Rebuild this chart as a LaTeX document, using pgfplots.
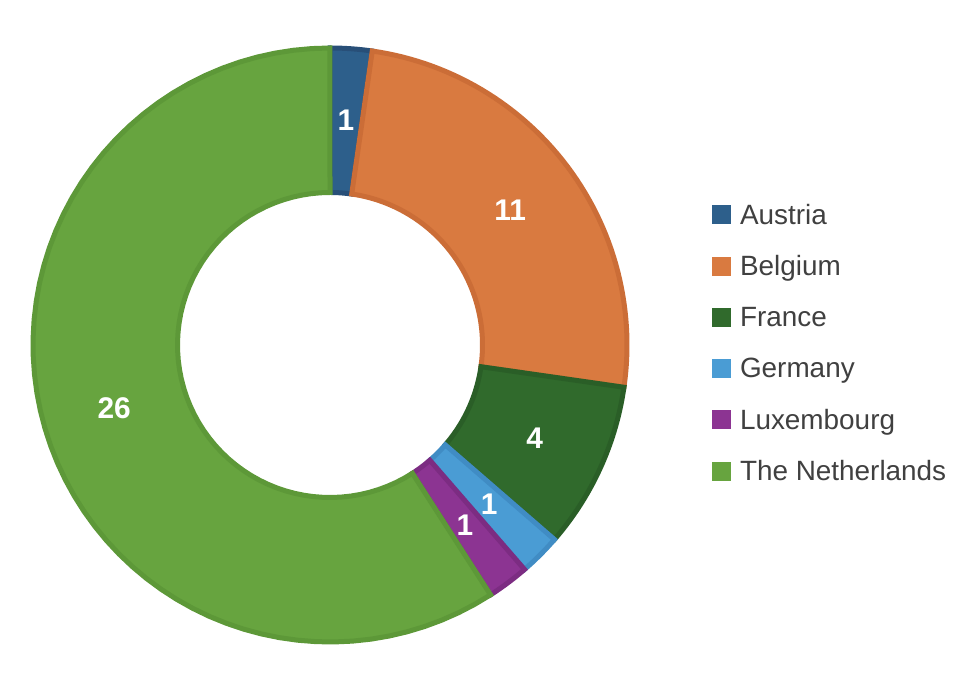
\documentclass[border=0pt]{standalone}
\usepackage{fontspec}
\setmainfont{Liberation Sans}
\usepackage{pgfplots}
\usepackage{pgfplotstable}
\pgfplotsset{compat=1.18}

\definecolor{cA}{HTML}{2D5F8B}\definecolor{dA}{HTML}{284F78}
\definecolor{cB}{HTML}{D97A40}\definecolor{dB}{HTML}{CB6D37}
\definecolor{cC}{HTML}{306A2C}\definecolor{dC}{HTML}{2A5E27}
\definecolor{cD}{HTML}{4A9CD4}\definecolor{dD}{HTML}{408CC4}
\definecolor{cE}{HTML}{8C3492}\definecolor{dE}{HTML}{7C2C82}
\definecolor{cF}{HTML}{67A43F}\definecolor{dF}{HTML}{5D9838}
\definecolor{txt}{HTML}{404040}

\pgfplotstableread{
name value
Austria 1
Belgium 11
France 4
Germany 1
Luxembourg 1
Netherlands 26
}\data

\pgfplotstablegetelem{0}{value}\of\data \let\vA\pgfplotsretval
\pgfplotstablegetelem{1}{value}\of\data \let\vB\pgfplotsretval
\pgfplotstablegetelem{2}{value}\of\data \let\vC\pgfplotsretval
\pgfplotstablegetelem{3}{value}\of\data \let\vD\pgfplotsretval
\pgfplotstablegetelem{4}{value}\of\data \let\vE\pgfplotsretval
\pgfplotstablegetelem{5}{value}\of\data \let\vF\pgfplotsretval
\pgfmathsetmacro\tot{\vA+\vB+\vC+\vD+\vE+\vF}
\pgfmathsetmacro\sA{90}
\pgfmathsetmacro\eA{\sA-360*\vA/\tot}
\pgfmathsetmacro\eB{\eA-360*\vB/\tot}
\pgfmathsetmacro\eC{\eB-360*\vC/\tot}
\pgfmathsetmacro\eD{\eC-360*\vD/\tot}
\pgfmathsetmacro\eE{\eD-360*\vE/\tot}
\pgfmathsetmacro\eF{\eE-360*\vF/\tot}

\def\cx{330}\def\cy{343}\def\Ro{297}\def\Ri{152.5}\def\Rm{225}

\newcommand\slice[4]{%
\addplot[fill=#3, draw=#4, line width=5bp, line join=miter,
  samples at={0,1,...,60,100,101,...,160}, variable=\t]
 ({\cx+(\t<80?\Ro:\Ri)*cos(\t<80 ? (#1)+((#2)-(#1))*\t/60 : (#2)+((#1)-(#2))*(\t-100)/60)},
  {\cy+(\t<80?\Ro:\Ri)*sin(\t<80 ? (#1)+((#2)-(#1))*\t/60 : (#2)+((#1)-(#2))*(\t-100)/60)}) -- cycle;
}
\newcommand\lab[3]{%
\node[text=white, font=\bfseries\fontsize{30}{30}\selectfont] at
  (axis cs:{\cx+\Rm*cos(((#1)+(#2))/2)},{\cy+\Rm*sin(((#1)+(#2))/2)}) {#3};
}

\begin{document}
\begin{tikzpicture}
\begin{axis}[
  x=1bp, y=1bp,
  xmin=0, xmax=964, ymin=0, ymax=688,
  hide axis, clip=false,
  legend cell align=left,
  legend image code/.code={\fill[#1, draw=none] (0bp,-9.5bp) rectangle (19bp,9.5bp);},
  legend style={draw=none, fill=none, at={(axis cs:712,486)}, anchor=north west,
    font=\fontsize{28}{34}\selectfont, text=txt, row sep=26bp,
    inner sep=0pt, outer sep=0pt,
    nodes={inner xsep=4bp},
    /tikz/every odd column/.append style={column sep=5bp}},
]
\slice{\sA}{\eA}{cA}{dA}\addlegendentry{Austria}
\slice{\eA}{\eB}{cB}{dB}\addlegendentry{Belgium}
\slice{\eB}{\eC}{cC}{dC}\addlegendentry{France}
\slice{\eC}{\eD}{cD}{dD}\addlegendentry{Germany}
\slice{\eD}{\eE}{cE}{dE}\addlegendentry{Luxembourg}
\slice{\eE}{\eF}{cF}{dF}\addlegendentry{The Netherlands}
\lab{\sA}{\eA}{\vA}
\lab{\eA}{\eB}{\vB}
\lab{\eB}{\eC}{\vC}
\lab{\eC}{\eD}{\vD}
\lab{\eD}{\eE}{\vE}
\lab{\eE}{\eF}{\vF}
\path[draw=none] (axis cs:0,0) rectangle (axis cs:964,688);
\end{axis}
\end{tikzpicture}
\end{document}
